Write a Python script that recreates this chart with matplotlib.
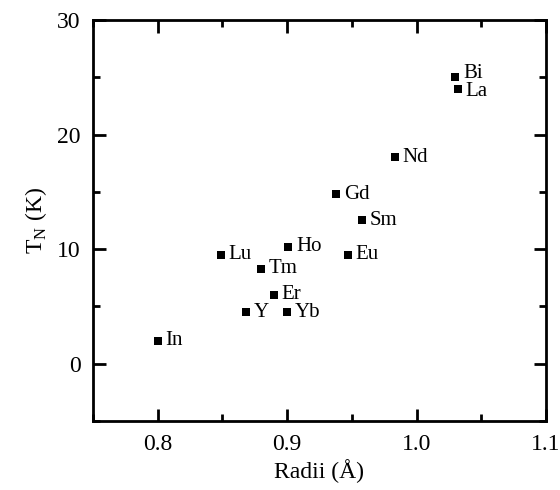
import numpy as np
import matplotlib
matplotlib.use('Agg')
import matplotlib.pyplot as plt
from matplotlib.ticker import MultipleLocator

plt.rcParams['font.family'] = ['Liberation Serif', 'DejaVu Serif']
plt.rcParams['mathtext.fontset'] = 'custom'
plt.rcParams['mathtext.rm'] = 'Liberation Serif'

# data
elements = ['Bi', 'La', 'Nd', 'Gd', 'Sm', 'Eu', 'Ho', 'Lu', 'Tm', 'Er', 'Y', 'Yb', 'In']
radii = [1.030, 1.032, 0.983, 0.938, 0.958, 0.947, 0.901, 0.849, 0.880, 0.890, 0.868, 0.900, 0.800]
tn = [25.0, 24.0, 18.0, 14.8, 12.5, 9.5, 10.2, 9.5, 8.3, 6.0, 4.5, 4.5, 2.0]

fig = plt.figure(figsize=(5.6, 4.9), dpi=100)
ax = fig.add_axes([93/560, 1-421/490, (546-93)/560, (421-20)/490])

ax.scatter(radii, tn, marker='s', s=36, color='black', zorder=3, linewidths=0)

for name, x, y in zip(elements, radii, tn):
    dy = 0
    if name == 'Bi':
        dy = 3
    elif name == 'La':
        dy = -2
    ax.annotate(name, (x, y), xytext=(5.5, dy), textcoords='offset points',
                ha='left', va='center', fontsize=15)

ax.set_xlim(0.75, 1.1)
ax.set_ylim(-5, 30)
ax.xaxis.set_minor_locator(MultipleLocator(0.05))
ax.yaxis.set_major_locator(MultipleLocator(10))
ax.yaxis.set_minor_locator(MultipleLocator(5))
ax.set_xticks([0.8, 0.9, 1.0, 1.1])
ax.set_xticklabels(['0.8', '0.9', '1.0', '1.1'])

ax.tick_params(which='both', direction='in', top=True, right=True, width=2, labelsize=17)
ax.tick_params(which='major', length=9, pad=9)
ax.tick_params(which='minor', length=5)
for s in ax.spines.values():
    s.set_linewidth(2)

ax.set_xlabel('Radii (Å)', fontsize=17, labelpad=3)
ax.set_ylabel(r'T$_\mathrm{N}$ (K)', fontsize=17, labelpad=6)

fig.savefig('out.png', dpi=100)
